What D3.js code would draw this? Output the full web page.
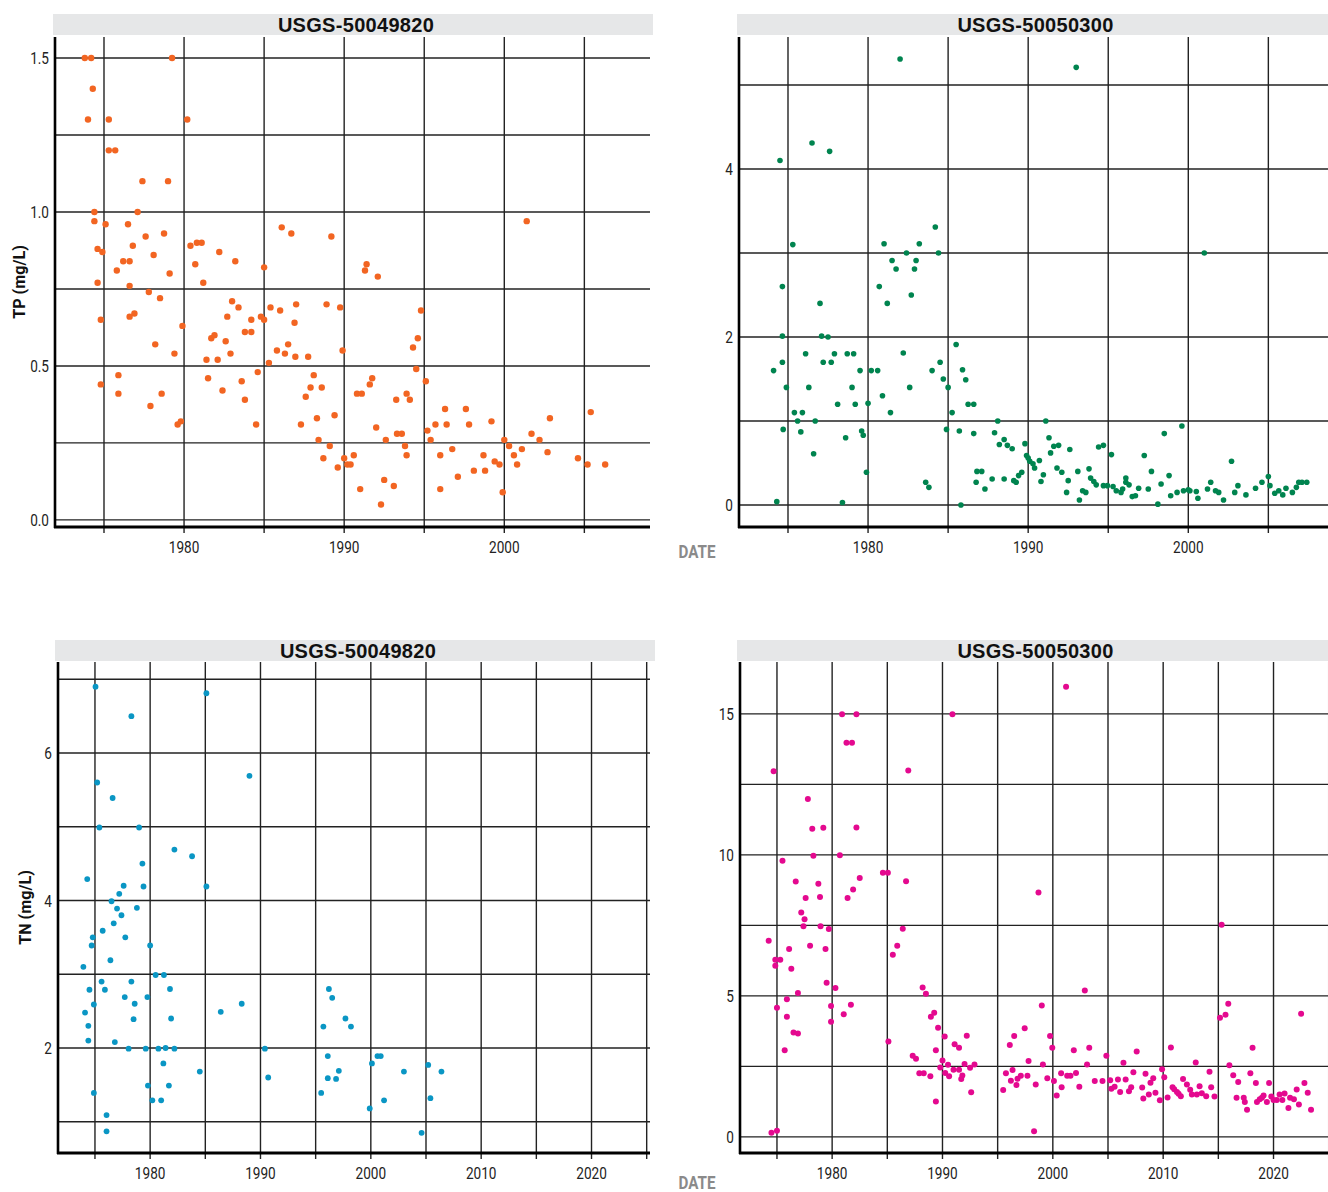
<!DOCTYPE html>
<html>
<head>
<meta charset="utf-8">
<script src="https://cdn.jsdelivr.net/npm/d3@7"></script>
<style>
  body { margin: 0; background: #fff; }
  .cond { font-family: "Roboto", "Liberation Sans", sans-serif; }
  .title { font-family: "Liberation Sans", Arial, sans-serif; font-weight: bold; }
</style>
</head>
<body>
<svg id="chart" width="1328" height="1192"></svg>
<script>
// Station names and measured parameters
const stations = ["USGS-50049820", "USGS-50050300"];
const parameters = ["TP (mg/L)", "TN (mg/L)"];
const xLabelYearsTop = [1980, 1990, 2000];
const xLabelYearsBottom = [1980, 1990, 2000, 2010, 2020];

// Total phosphorus samples, [decimal year, mg/L]
const tpStationA = [
  [1973.8,1.5],[1974.2,1.5],[1974.3,1.4],[1974.0,1.3],[1975.3,1.3],[1979.25,1.5],[1980.2,1.3],[1975.3,1.2],[1975.7,1.2],
  [1977.4,1.1],[1979.0,1.1],[1974.4,1.0],[1977.1,1.0],[1974.4,0.97],[1975.1,0.96],[1976.5,0.96],[1977.6,0.92],[1978.75,0.93],
  [1974.6,0.88],[1974.9,0.87],[1976.8,0.89],[1978.1,0.86],[1980.4,0.89],[1980.8,0.90],[1981.1,0.90],[1982.2,0.87],[1983.2,0.84],
  [1985.0,0.82],[1976.2,0.84],[1976.6,0.84],[1975.8,0.81],[1980.7,0.83],[1979.1,0.80],[1974.6,0.77],[1976.6,0.76],[1981.2,0.77],
  [1977.8,0.74],[1978.5,0.72],[1983.0,0.71],[1986.1,0.95],[1986.7,0.93],[1989.2,0.92],[2001.4,0.97],[1991.4,0.83],[1991.3,0.81],
  [1992.1,0.79],[1974.8,0.65],[1976.6,0.66],[1976.9,0.67],[1979.9,0.63],[1983.4,0.69],[1978.2,0.57],[1974.8,0.44],[1975.9,0.47],
  [1975.9,0.41],[1977.9,0.37],[1978.6,0.41],[1979.4,0.54],[1979.6,0.31],[1979.8,0.32],[1981.4,0.52],[1981.5,0.46],[1981.7,0.59],
  [1981.9,0.60],[1982.1,0.52],[1982.4,0.42],[1982.6,0.58],[1982.7,0.66],[1982.9,0.54],[1983.6,0.45],[1983.8,0.61],[1984.2,0.61],
  [1983.8,0.39],[1984.2,0.65],[1984.5,0.31],[1984.6,0.48],[1984.8,0.66],[1985.0,0.65],[1985.3,0.51],[1985.4,0.69],[1985.8,0.55],
  [1986.0,0.68],[1986.3,0.54],[1986.5,0.57],[1986.9,0.64],[1987.0,0.70],[1986.95,0.53],[1987.3,0.31],[1987.6,0.40],[1987.75,0.53],
  [1987.9,0.43],[1988.1,0.47],[1988.3,0.33],[1988.4,0.26],[1988.6,0.43],[1988.7,0.20],[1988.9,0.70],[1989.75,0.69],[1989.9,0.55],
  [1989.4,0.34],[1989.1,0.24],[1989.6,0.17],[1990.0,0.20],[1990.2,0.18],[1990.4,0.18],[1990.6,0.21],[1991.0,0.10],[1990.8,0.41],
  [1991.1,0.41],[1991.6,0.44],[1991.75,0.46],[1992.0,0.30],[1992.3,0.05],[1992.5,0.13],[1992.6,0.26],[1993.1,0.11],[1993.25,0.39],
  [1993.3,0.28],[1993.6,0.28],[1993.8,0.24],[1993.9,0.41],[1993.9,0.21],[1994.1,0.39],[1994.3,0.56],[1994.5,0.49],[1994.6,0.59],
  [1994.8,0.68],[1995.1,0.45],[1995.2,0.29],[1995.4,0.26],[1995.7,0.31],[1996.0,0.21],[1996.0,0.10],[1996.3,0.36],[1996.4,0.31],
  [1996.75,0.23],[1997.1,0.14],[1997.6,0.36],[1997.8,0.31],[1998.1,0.16],[1998.7,0.21],[1998.8,0.16],[1999.2,0.32],[1999.4,0.19],
  [1999.7,0.18],[1999.9,0.09],[2000.0,0.26],[2000.3,0.24],[2000.6,0.21],[2000.8,0.18],[2001.1,0.23],[2001.7,0.28],[2002.2,0.26],
  [2002.7,0.22],[2002.85,0.33],[2004.6,0.20],[2005.2,0.18],[2005.4,0.35],[2006.3,0.18]
];

const tpStationB = [
  [1982.0,5.31],[1974.5,4.10],[1976.5,4.31],[1977.6,4.21],[1975.3,3.10],[1984.2,3.31],[1981.0,3.11],[1983.2,3.11],[1982.4,3.0],
  [1984.4,3.0],[1981.5,2.91],[1983.0,2.91],[1981.75,2.81],[1982.9,2.81],[1974.65,2.60],[1980.7,2.60],[1982.7,2.50],[1993.0,5.21],
  [2001.0,3.0],[1977.0,2.40],[1981.2,2.40],[1974.65,2.01],[1977.1,2.01],[1977.5,2.0],[1974.1,1.60],[1974.65,1.70],[1974.9,1.40],
  [1976.1,1.80],[1976.3,1.40],[1977.2,1.70],[1977.7,1.70],[1977.9,1.80],[1978.1,1.20],[1978.7,1.80],[1979.1,1.80],[1979.5,1.60],
  [1979.0,1.40],[1979.2,1.20],[1980.2,1.60],[1980.6,1.60],[1980.0,1.21],[1980.9,1.30],[1981.4,1.10],[1982.2,1.81],[1982.6,1.40],
  [1975.4,1.10],[1975.9,1.10],[1975.6,1.0],[1976.7,1.0],[1974.7,0.90],[1975.8,0.87],[1976.6,0.61],[1978.6,0.80],[1979.6,0.88],
  [1979.7,0.83],[1979.9,0.39],[1974.3,0.04],[1978.4,0.03],[1983.6,0.27],[1983.8,0.21],[1984.5,1.70],[1984.0,1.60],[1984.7,1.50],
  [1985.0,1.40],[1985.25,1.10],[1984.9,0.90],[1985.5,1.91],[1985.7,0.88],[1985.8,0.0],[1985.9,1.61],[1986.1,1.49],[1986.25,1.20],
  [1986.6,1.20],[1986.6,0.85],[1986.75,0.27],[1987.1,0.40],[1986.8,0.40],[1987.3,0.19],[1987.75,0.31],[1987.9,0.86],[1988.1,1.0],
  [1988.2,0.72],[1988.5,0.78],[1988.5,0.31],[1988.7,0.71],[1989.0,0.67],[1989.1,0.29],[1989.25,0.27],[1989.4,0.35],[1989.6,0.39],
  [1989.8,0.73],[1989.9,0.59],[1990.0,0.56],[1990.1,0.52],[1990.3,0.49],[1990.4,0.44],[1990.7,0.53],[1990.8,0.28],[1990.95,0.36],
  [1991.1,1.0],[1991.3,0.80],[1991.4,0.62],[1991.6,0.70],[1991.9,0.71],[1991.8,0.44],[1992.1,0.39],[1992.4,0.15],[1992.5,0.29],
  [1992.6,0.66],[1993.1,0.40],[1993.2,0.06],[1993.4,0.17],[1993.6,0.15],[1993.8,0.43],[1993.9,0.32],[1994.1,0.28],[1994.25,0.24],
  [1994.4,0.69],[1994.7,0.71],[1994.7,0.23],[1994.95,0.23],[1995.3,0.22],[1995.2,0.60],[1995.5,0.17],[1995.8,0.15],[1995.9,0.19],
  [1996.1,0.27],[1996.1,0.32],[1996.3,0.24],[1996.5,0.10],[1996.7,0.11],[1996.9,0.20],[1997.25,0.59],[1997.5,0.19],[1997.7,0.40],
  [1998.1,0.01],[1998.3,0.25],[1998.5,0.85],[1998.8,0.35],[1998.9,0.11],[1999.3,0.15],[1999.6,0.94],[1999.7,0.17],[2000.0,0.18],
  [2000.1,0.17],[2000.5,0.16],[2000.6,0.08],[2001.2,0.19],[2001.4,0.27],[2001.7,0.17],[2001.9,0.15],[2002.2,0.06],[2002.7,0.52],
  [2002.9,0.15],[2003.1,0.23],[2003.6,0.12],[2004.2,0.20],[2004.6,0.27],[2005.0,0.34],[2005.1,0.23],[2005.4,0.14],[2005.65,0.17],
  [2005.9,0.12],[2006.1,0.20],[2006.5,0.15],[2006.75,0.21],[2006.9,0.27],[2007.1,0.27],[2007.4,0.27]
];

// Total nitrogen samples, [decimal year, mg/L]
const tnStationA = [
  [1975.05,6.90],[1985.1,6.81],[1978.3,6.50],[1989.0,5.69],[1975.2,5.60],[1976.6,5.39],[1975.4,4.99],[1979.0,4.99],[1982.2,4.69],
  [1983.8,4.60],[1979.3,4.50],[1974.3,4.29],[1977.6,4.20],[1979.4,4.19],[1985.1,4.19],[1977.2,4.09],[1976.5,3.99],[1977.0,3.89],
  [1978.8,3.90],[1977.4,3.80],[1976.7,3.69],[1975.7,3.59],[1974.8,3.50],[1977.75,3.50],[1974.7,3.39],[1980.0,3.39],[1976.4,3.19],
  [1973.95,3.10],[1980.5,2.99],[1981.25,2.99],[1975.6,2.90],[1978.3,2.90],[1974.5,2.79],[1975.9,2.79],[1981.8,2.80],[1977.7,2.69],
  [1979.75,2.69],[1974.9,2.59],[1978.6,2.60],[1988.3,2.60],[1974.1,2.48],[1986.4,2.49],[1978.5,2.39],[1981.9,2.40],[1974.4,2.30],
  [1974.4,2.10],[1976.8,2.08],[1978.05,1.99],[1979.6,1.99],[1980.75,1.99],[1981.4,2.0],[1982.2,1.99],[1990.4,1.99],[1981.2,1.79],
  [1984.5,1.68],[1990.7,1.60],[1974.9,1.39],[1979.8,1.49],[1981.7,1.49],[1980.2,1.29],[1981.0,1.29],[1976.05,1.09],[1976.05,0.87],
  [1995.5,1.39],[1995.7,2.29],[1996.1,1.89],[1996.1,1.59],[1996.2,2.80],[1996.5,2.68],[1997.7,2.40],[1998.2,2.29],[1996.85,1.58],
  [1997.1,1.69],[1999.9,1.18],[2000.1,1.79],[2000.6,1.89],[2000.9,1.89],[2001.2,1.29],[2003.0,1.68],[2004.6,0.85],[2005.2,1.77],
  [2005.4,1.32],[2006.4,1.68]
];

const tnStationB = [
  [1974.25,6.96],[1974.7,12.97],[1974.85,6.28],[1975.3,6.28],[1974.85,6.07],[1975.0,4.58],[1974.5,0.15],[1975.0,0.22],[1975.5,9.79],
  [1976.1,6.66],[1975.9,4.88],[1975.9,4.26],[1975.7,3.07],[1976.3,5.96],[1976.5,3.70],[1976.9,3.67],[1976.7,9.06],[1976.9,5.10],
  [1977.2,7.96],[1977.5,7.72],[1977.4,7.47],[1977.6,8.47],[1977.8,11.98],[1978.0,6.78],[1978.2,10.93],[1978.3,9.97],[1978.75,8.98],
  [1978.9,8.51],[1978.95,7.47],[1979.2,10.96],[1979.4,6.66],[1979.7,7.37],[1979.5,5.47],[1979.9,4.64],[1979.9,4.08],[1980.3,5.28],
  [1980.7,9.99],[1980.9,14.99],[1981.3,13.98],[1981.8,13.98],[1982.2,14.99],[1981.05,4.35],[1981.4,8.47],[1981.7,4.69],[1981.9,8.77],
  [1982.2,10.97],[1982.5,9.18],[1984.6,9.37],[1985.05,9.37],[1985.1,3.38],[1985.5,6.46],[1985.9,6.78],[1986.4,7.38],[1986.7,9.07],
  [1986.9,12.99],[1987.3,2.88],[1987.6,2.77],[1987.9,2.26],[1988.3,2.26],[1988.2,5.30],[1988.5,5.08],[1988.9,2.15],[1988.95,4.26],
  [1989.25,4.40],[1989.4,3.07],[1989.4,1.26],[1989.6,3.87],[1989.8,2.46],[1990.0,2.71],[1990.2,3.56],[1990.25,2.27],[1990.5,2.56],
  [1990.6,2.15],[1990.9,14.99],[1991.0,2.38],[1991.5,2.38],[1991.1,3.29],[1991.5,3.16],[1991.7,2.05],[1991.8,2.18],[1992.0,2.59],
  [1992.2,3.59],[1992.5,2.45],[1992.6,1.58],[1992.9,2.57],[1995.5,1.66],[1995.75,2.26],[1996.1,3.26],[1996.2,1.99],[1996.35,2.37],
  [1996.5,3.58],[1996.7,1.84],[1996.8,2.06],[1997.1,2.17],[1997.45,3.85],[1997.7,2.17],[1997.8,2.69],[1998.3,0.20],[1998.45,1.86],
  [1998.7,8.67],[1999.0,4.66],[1999.1,2.57],[1999.5,2.08],[1999.75,3.58],[1999.95,3.16],[2000.1,1.98],[2000.35,1.47],[2000.75,2.26],
  [2000.8,1.76],[2001.2,15.96],[2001.3,2.17],[2001.6,2.17],[2001.9,3.07],[2002.1,2.27],[2002.4,1.78],[2002.9,5.19],[2003.1,2.57],
  [2003.3,3.16],[2003.8,1.98],[2004.5,1.98],[2004.85,2.88],[2005.2,2.01],[2005.3,1.71],[2005.6,1.78],[2005.9,2.04],[2006.1,1.59],
  [2006.4,2.63],[2006.6,2.04],[2006.9,1.62],[2007.1,1.76],[2007.3,2.29],[2007.6,3.03],[2008.1,1.75],[2008.2,1.36],[2008.4,2.24],
  [2008.7,1.50],[2008.85,1.92],[2009.1,2.08],[2009.3,1.57],[2009.7,1.30],[2009.9,2.40],[2010.1,2.12],[2010.4,1.40],[2010.7,3.17],
  [2010.85,1.76],[2011.0,1.69],[2011.25,1.59],[2011.4,1.53],[2011.6,1.44],[2011.8,2.05],[2012.15,1.86],[2012.45,1.67],[2012.6,1.50],
  [2012.95,2.64],[2013.05,1.50],[2013.3,1.80],[2013.5,1.55],[2013.9,1.44],[2014.2,2.31],[2014.35,1.76],[2014.65,1.43],[2015.15,4.23],
  [2015.3,7.52],[2015.65,4.33],[2015.9,4.72],[2016.0,2.54],[2016.35,2.19],[2016.65,1.39],[2016.8,1.95],[2017.3,1.39],[2017.4,1.24],
  [2017.6,0.96],[2017.9,2.26],[2018.1,3.16],[2018.4,1.91],[2018.5,1.24],[2018.75,1.34],[2018.95,1.39],[2019.1,1.47],[2019.4,1.24],
  [2019.6,1.91],[2019.8,1.43],[2020.0,1.31],[2020.3,1.31],[2020.55,1.50],[2020.8,1.31],[2021.0,1.54],[2021.35,1.03],[2021.5,1.39],
  [2021.85,1.34],[2022.1,1.68],[2022.3,1.15],[2022.5,4.37],[2022.8,1.91],[2023.1,1.57],[2023.4,0.96]
];

const svg = d3.select("#chart");

// Narrow text: Roboto squeezed horizontally to a condensed face
function narrowText(parent, x, y, str, opts) {
  const o = Object.assign({ size: 17, sx: 0.8, anchor: "middle", weight: "normal", fill: "#222", rotate: 0, dy: "0" }, opts);
  return parent.append("text").attr("class", "cond")
    .attr("transform", `translate(${x},${y}) rotate(${o.rotate}) scale(${o.sx},1)`)
    .attr("text-anchor", o.anchor).attr("dy", o.dy)
    .attr("font-size", o.size).attr("font-weight", o.weight).attr("fill", o.fill)
    .text(str);
}

// Panel layout: plot rectangle, title band, axis domains and grid steps
const panels = [
  { title: stations[0], data: tpStationA, color: "#f26522", r: 3.2, yTitle: parameters[0], yTitleOffset: 30,
    left: 55, right: 650, top: 37, bottom: 527, bandX: [53, 653], bandY: [14, 35],
    xDomain: [1971.94, 2009.1], yDomain: [-0.023, 1.568], yGrid: 0.25, yLabel: 0.5, yFmt: d3.format(".1f"),
    xYears: d3.range(1975, 2009, 5), xLabels: xLabelYearsTop },
  { title: stations[1], data: tpStationB, color: "#00844f", r: 2.8, yTitle: null,
    left: 739, right: 1334, top: 37, bottom: 527, bandX: [737, 1328], bandY: [14, 35],
    xDomain: [1971.94, 2009.1], yDomain: [-0.262, 5.571], yGrid: 1, yLabel: 2, yFmt: d3.format("d"),
    xYears: d3.range(1975, 2009, 5), xLabels: xLabelYearsTop },
  { title: stations[0], data: tnStationA, color: "#0a96c4", r: 2.9, yTitle: parameters[1], yTitleOffset: 27,
    left: 58, right: 650, top: 662, bottom: 1153, bandX: [55, 655], bandY: [640, 661],
    xDomain: [1971.65, 2025.3], yDomain: [0.576, 7.234], yGrid: 1, yLabel: 2, yFmt: d3.format("d"),
    xYears: d3.range(1975, 2026, 5), xLabels: xLabelYearsBottom },
  { title: stations[1], data: tnStationB, color: "#e4098f", r: 3.0, yTitle: null,
    left: 740, right: 1332, top: 662, bottom: 1153, bandX: [737, 1328], bandY: [640, 661],
    xDomain: [1971.65, 2025.3], yDomain: [-0.57, 16.84], yGrid: 2.5, yLabel: 5, yFmt: d3.format("d"),
    xYears: d3.range(1975, 2026, 5), xLabels: xLabelYearsBottom }
];

panels.forEach(p => {
  const x = d3.scaleLinear().domain(p.xDomain).range([p.left, p.right]);
  const y = d3.scaleLinear().domain(p.yDomain).range([p.bottom, p.top]);
  const g = svg.append("g");

  // Title band
  g.append("rect")
    .attr("x", p.bandX[0]).attr("y", p.bandY[0])
    .attr("width", p.bandX[1] - p.bandX[0]).attr("height", p.bandY[1] - p.bandY[0])
    .attr("fill", "#e6e7e8");
  g.append("text").attr("class", "title")
    .attr("x", (p.bandX[0] + p.bandX[1]) / 2 + 3).attr("y", p.bandY[1] - 3)
    .attr("text-anchor", "middle").attr("font-size", 20).attr("letter-spacing", 0.3).attr("fill", "#111")
    .text(p.title);

  // Horizontal grid
  const yVals = d3.range(Math.ceil(p.yDomain[0] / p.yGrid) * p.yGrid, p.yDomain[1] + 1e-9, p.yGrid);
  g.selectAll(".hg").data(yVals).join("line")
    .attr("x1", p.left).attr("x2", Math.min(p.right, 1328))
    .attr("y1", d => y(d)).attr("y2", d => y(d))
    .attr("stroke", "#222").attr("stroke-width", 1.4);

  // Vertical grid with ticks below the axis
  g.selectAll(".vg").data(p.xYears).join("line")
    .attr("x1", d => x(d)).attr("x2", d => x(d))
    .attr("y1", p.top).attr("y2", p.bottom + 6)
    .attr("stroke", "#222").attr("stroke-width", 1.4);

  // Axis lines
  g.append("line").attr("x1", p.left).attr("x2", p.left).attr("y1", p.top).attr("y2", p.bottom + 1)
    .attr("stroke", "#000").attr("stroke-width", 2.6);
  g.append("line").attr("x1", p.left - 1).attr("x2", Math.min(p.right, 1328)).attr("y1", p.bottom).attr("y2", p.bottom)
    .attr("stroke", "#000").attr("stroke-width", 3);

  // Y tick labels
  const yLab = yVals.filter(v => Math.abs(v / p.yLabel - Math.round(v / p.yLabel)) < 1e-6);
  yLab.forEach(v => narrowText(g, p.left - 6, y(v), p.yFmt(v), { anchor: "end", dy: "0.36em" }));

  // X tick labels
  p.xLabels.forEach(yr => narrowText(g, x(yr), p.bottom + 26, String(yr), {}));

  // Y axis title
  if (p.yTitle) {
    narrowText(g, p.left - p.yTitleOffset, (p.top + p.bottom) / 2, p.yTitle,
      { size: 17, sx: 0.95, weight: "bold", fill: "#111", rotate: -90 });
  }

  // Sample points
  g.selectAll("circle").data(p.data).join("circle")
    .attr("cx", d => x(d[0])).attr("cy", d => y(d[1])).attr("r", p.r)
    .attr("fill", p.color);
});

// Shared date labels for each row
[558, 1189].forEach(yy => {
  narrowText(svg, 697, yy, "DATE", { size: 19, sx: 0.8, weight: "bold", fill: "#8a8a8a" });
});
</script>
</body>
</html>
